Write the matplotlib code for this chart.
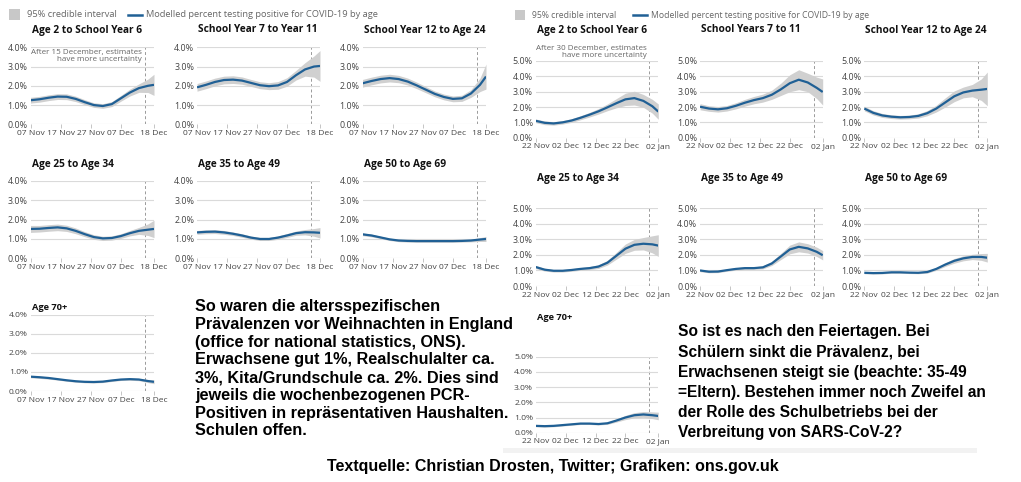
import matplotlib
matplotlib.use("Agg")
import matplotlib.pyplot as plt
from matplotlib.patches import Rectangle
from matplotlib.lines import Line2D

# day offsets of the sampled points (0 = first date on the axis, 41 = last)
days = [0, 3, 6, 9, 12, 15, 18, 21, 24, 27, 30, 33, 36, 39, 41]

left_ticks = [0, 10, 20, 30, 41]
left_ticklabels = ["07 Nov", "17 Nov", "27 Nov", "07 Dec", "18 Dec"]
right_ticks = [0, 10, 20, 30, 41]
right_ticklabels = ["22 Nov", "02 Dec", "12 Dec", "22 Dec", "02 Jan"]

# --- before Christmas (7 Nov - 18 Dec) ---
l_age2 = [1.25, 1.30, 1.38, 1.44, 1.43, 1.32, 1.15, 1.00, 0.95, 1.05, 1.35, 1.65, 1.88, 2.00, 2.05]
l_age2_ci = [0.15, 0.15, 0.15, 0.15, 0.15, 0.14, 0.13, 0.12, 0.12, 0.13, 0.15, 0.18, 0.22, 0.35, 0.55]
l_y7 = [1.92, 2.05, 2.20, 2.30, 2.32, 2.27, 2.15, 2.03, 1.98, 2.02, 2.20, 2.55, 2.85, 3.00, 3.03]
l_y7_ci = [0.20, 0.20, 0.20, 0.20, 0.20, 0.19, 0.18, 0.18, 0.18, 0.20, 0.22, 0.25, 0.35, 0.55, 0.80]
l_y12 = [2.13, 2.25, 2.35, 2.40, 2.35, 2.22, 2.02, 1.80, 1.58, 1.42, 1.32, 1.35, 1.60, 2.05, 2.48]
l_y12_ci = [0.20, 0.20, 0.20, 0.20, 0.19, 0.18, 0.17, 0.16, 0.15, 0.15, 0.15, 0.16, 0.20, 0.35, 0.65]
l_25 = [1.52, 1.53, 1.57, 1.60, 1.55, 1.42, 1.25, 1.10, 1.03, 1.05, 1.15, 1.30, 1.42, 1.48, 1.52]
l_25_ci = [0.18, 0.17, 0.17, 0.17, 0.16, 0.15, 0.13, 0.12, 0.11, 0.11, 0.12, 0.14, 0.18, 0.30, 0.45]
l_35 = [1.34, 1.37, 1.38, 1.34, 1.27, 1.18, 1.07, 1.00, 1.00, 1.07, 1.18, 1.30, 1.35, 1.34, 1.32]
l_35_ci = [0.10, 0.10, 0.10, 0.10, 0.09, 0.09, 0.08, 0.08, 0.08, 0.09, 0.10, 0.11, 0.14, 0.20, 0.27]
l_50 = [1.24, 1.18, 1.08, 0.98, 0.92, 0.90, 0.89, 0.89, 0.89, 0.89, 0.89, 0.90, 0.92, 0.97, 1.00]
l_50_ci = [0.07, 0.07, 0.06, 0.06, 0.06, 0.06, 0.06, 0.06, 0.06, 0.06, 0.06, 0.06, 0.07, 0.10, 0.13]
l_70 = [0.75, 0.72, 0.68, 0.62, 0.56, 0.51, 0.48, 0.47, 0.49, 0.55, 0.60, 0.62, 0.60, 0.52, 0.48]
l_70_ci = [0.06, 0.06, 0.06, 0.05, 0.05, 0.05, 0.05, 0.05, 0.05, 0.05, 0.05, 0.06, 0.06, 0.08, 0.10]

# --- after the holidays (22 Nov - 02 Jan) ---
r_age2 = [1.10, 0.97, 0.93, 1.00, 1.12, 1.30, 1.50, 1.72, 1.98, 2.25, 2.50, 2.58, 2.40, 2.05, 1.70]
r_age2_ci = [0.12, 0.12, 0.11, 0.11, 0.12, 0.13, 0.15, 0.18, 0.22, 0.30, 0.40, 0.45, 0.42, 0.45, 0.50]
r_y7 = [2.02, 1.90, 1.85, 1.92, 2.08, 2.28, 2.45, 2.58, 2.80, 3.15, 3.55, 3.78, 3.60, 3.25, 2.98]
r_y7_ci = [0.20, 0.18, 0.18, 0.18, 0.20, 0.22, 0.24, 0.26, 0.30, 0.40, 0.55, 0.65, 0.60, 0.70, 0.85]
r_y12 = [1.90, 1.62, 1.45, 1.37, 1.33, 1.35, 1.42, 1.60, 1.90, 2.30, 2.70, 2.95, 3.07, 3.13, 3.18]
r_y12_ci = [0.15, 0.14, 0.13, 0.12, 0.12, 0.12, 0.14, 0.17, 0.22, 0.30, 0.35, 0.35, 0.40, 0.70, 1.10]
r_25 = [1.22, 1.05, 0.98, 0.98, 1.03, 1.10, 1.15, 1.25, 1.50, 1.95, 2.40, 2.65, 2.72, 2.68, 2.60]
r_25_ci = [0.10, 0.09, 0.08, 0.08, 0.08, 0.09, 0.10, 0.12, 0.15, 0.22, 0.30, 0.35, 0.40, 0.55, 0.70]
r_35 = [1.00, 0.92, 0.93, 1.02, 1.10, 1.15, 1.15, 1.20, 1.45, 1.90, 2.35, 2.52, 2.42, 2.20, 1.98]
r_35_ci = [0.08, 0.07, 0.07, 0.07, 0.08, 0.08, 0.08, 0.10, 0.13, 0.20, 0.28, 0.32, 0.30, 0.30, 0.30]
r_50 = [0.85, 0.83, 0.84, 0.88, 0.88, 0.86, 0.85, 0.90, 1.10, 1.38, 1.62, 1.78, 1.87, 1.87, 1.82]
r_50_ci = [0.06, 0.06, 0.06, 0.06, 0.06, 0.06, 0.06, 0.07, 0.09, 0.12, 0.15, 0.16, 0.17, 0.22, 0.28]
r_70 = [0.45, 0.43, 0.45, 0.50, 0.55, 0.60, 0.60, 0.57, 0.62, 0.80, 1.00, 1.15, 1.20, 1.15, 1.10]
r_70_ci = [0.06, 0.06, 0.06, 0.06, 0.06, 0.06, 0.06, 0.06, 0.07, 0.10, 0.14, 0.17, 0.19, 0.22, 0.25]

W, H = 1021, 482
BLUE = "#206095"
BAND = "#d0d0d0"
GRID = "#dadada"
TXT = "#444444"
CHART_FONT = ["Open Sans", "DejaVu Sans"]
NOTE_FONT = ["Liberation Sans", "DejaVu Sans"]

fig = plt.figure(figsize=(W / 100, H / 100), dpi=100)


def fx(x):
    return x / W


def fy(y):
    return 1 - y / H


def panel(x0, x1, ytop, ybot, ymax, vals, ci, title, title_y, ticks, ticklabels, small=False):
    ax = fig.add_axes([fx(x0), fy(ybot), (x1 - x0) / W, (ybot - ytop) / H])
    lo = [v - c for v, c in zip(vals, ci)]
    hi = [v + c for v, c in zip(vals, ci)]
    ax.fill_between(days, lo, hi, color=BAND, lw=0, zorder=2)
    ax.plot(days, vals, color=BLUE, lw=1.6, zorder=3, solid_capstyle="butt")
    ax.axvline(38, color="#9a9a9a", lw=0.7, ls=(0, (3, 2.5)), zorder=1)
    ax.set_xlim(0, 41)
    ax.set_ylim(0, ymax)
    ax.set_yticks(range(0, ymax + 1))
    ax.set_yticklabels(["%.1f%%" % v for v in range(0, ymax + 1)])
    ax.set_xticks(ticks)
    ax.set_xticklabels(ticklabels)
    ax.grid(axis="y", color=GRID, lw=0.8, zorder=0)
    for s in ax.spines.values():
        s.set_visible(False)
    xfs = 6.0 if small else 6.1
    yfs = 6.1 if small else 6.4
    ax.tick_params(axis="y", length=0, pad=2, labelsize=yfs, labelcolor=TXT)
    ax.tick_params(axis="x", length=3, width=0.6, color="#bbbbbb", pad=1, labelsize=xfs, labelcolor=TXT)
    for lab in ax.get_xticklabels() + ax.get_yticklabels():
        lab.set_family(CHART_FONT)
    fig.text(fx(x0 + 1), fy(title_y), title, ha="left", va="center", fontsize=6.7 if small else 7.3,
             fontweight="bold", color="#111111", family=CHART_FONT)
    return ax


def legend(xsq, ysq, sq, xline, xtext2, fs):
    fig.patches.append(Rectangle((fx(xsq), fy(ysq + sq)), sq / W, sq / H, transform=fig.transFigure,
                                 color="#c8c8c8", lw=0))
    fig.text(fx(xsq + sq + 7), fy(ysq + sq / 2), "95% credible interval", ha="left", va="center",
             fontsize=fs, color="#666666", family=CHART_FONT)
    fig.lines.append(Line2D([fx(xline), fx(xline + 14)], [fy(ysq + sq / 2)] * 2, transform=fig.transFigure,
                            color=BLUE, lw=1.8))
    fig.text(fx(xtext2), fy(ysq + sq / 2), "Modelled percent testing positive for COVID-19 by age", ha="left",
             va="center", fontsize=fs, color="#666666", family=CHART_FONT)


# left block
lcols = [(30.5, 154), (197, 320), (362.5, 486)]
lrows = [(47.3, 124.3, 30), (181, 258.3, 165), (314.5, 391, 308)]
left_panels = [
    (0, 0, l_age2, l_age2_ci, "Age 2 to School Year 6"),
    (0, 1, l_y7, l_y7_ci, "School Year 7 to Year 11"),
    (0, 2, l_y12, l_y12_ci, "School Year 12 to Age 24"),
    (1, 0, l_25, l_25_ci, "Age 25 to Age 34"),
    (1, 1, l_35, l_35_ci, "Age 35 to Age 49"),
    (1, 2, l_50, l_50_ci, "Age 50 to Age 69"),
    (2, 0, l_70, l_70_ci, "Age 70+"),
]
for r, c, v, ci, t in left_panels:
    x0, x1 = lcols[c]
    yt, yb, ty = lrows[r]
    panel(x0, x1, yt, yb, 4, v, ci, t, ty, left_ticks, left_ticklabels, small=(r == 2))

# right block
rcols = [(535.7, 658.3), (700, 822.7), (864.3, 987.3)]
rrows = [(61, 137.7, 30), (208.3, 286, 178.5), (356.7, 432.7, 318)]
right_panels = [
    (0, 0, r_age2, r_age2_ci, "Age 2 to School Year 6"),
    (0, 1, r_y7, r_y7_ci, "School Years 7 to 11"),
    (0, 2, r_y12, r_y12_ci, "School Year 12 to Age 24"),
    (1, 0, r_25, r_25_ci, "Age 25 to Age 34"),
    (1, 1, r_35, r_35_ci, "Age 35 to Age 49"),
    (1, 2, r_50, r_50_ci, "Age 50 to Age 69"),
    (2, 0, r_70, r_70_ci, "Age 70+"),
]
for r, c, v, ci, t in right_panels:
    x0, x1 = rcols[c]
    yt, yb, ty = rrows[r]
    panel(x0, x1, yt, yb, 5, v, ci, t, ty, right_ticks, right_ticklabels, small=(r == 2))

legend(9, 9, 11, 128, 146, 6.7)
legend(515, 10, 10, 633, 651, 6.2)

fig.text(fx(142), fy(56), "After 15 December, estimates\nhave more uncertainty", ha="right", va="center",
         multialignment="right", fontsize=5.8, color="#666666", family=CHART_FONT, linespacing=1.15)
fig.text(fx(647), fy(52), "After 30 December, estimates\nhave more uncertainty", ha="right", va="center",
         multialignment="right", fontsize=5.8, color="#666666", family=CHART_FONT, linespacing=1.15)

# faint edge below the second screenshot
fig.patches.append(Rectangle((fx(503), fy(453)), 474 / W, 5 / H, transform=fig.transFigure,
                             color="#f2f2f2", lw=0))

left_note = ("So waren die altersspezifischen\n"
             "Prävalenzen vor Weihnachten in England\n"
             "(office for national statistics, ONS).\n"
             "Erwachsene gut 1%, Realschulalter ca.\n"
             "3%, Kita/Grundschule ca. 2%. Dies sind\n"
             "jeweils die wochenbezogenen PCR-\n"
             "Positiven in repräsentativen Haushalten.\n"
             "Schulen offen.")
right_note = ("So ist es nach den Feiertagen. Bei\n"
              "Schülern sinkt die Prävalenz, bei\n"
              "Erwachsenen steigt sie (beachte: 35-49\n"
              "=Eltern). Bestehen immer noch Zweifel an\n"
              "der Rolle des Schulbetriebs bei der\n"
              "Verbreitung von SARS-CoV-2?")
fig.text(fx(195), fy(299), left_note, ha="left", va="top", fontsize=11.7, fontweight="bold",
         family=NOTE_FONT, linespacing=1.23, color="black")
fig.text(fx(678), fy(324), right_note, ha="left", va="top", fontsize=11.2, fontweight="bold",
         family=NOTE_FONT, linespacing=1.44, color="black")
fig.text(fx(553), fy(467), "Textquelle: Christian Drosten, Twitter; Grafiken: ons.gov.uk", ha="center",
         va="center", fontsize=11.5, fontweight="bold", family=NOTE_FONT, color="black")

fig.savefig("out.png", dpi=100)
